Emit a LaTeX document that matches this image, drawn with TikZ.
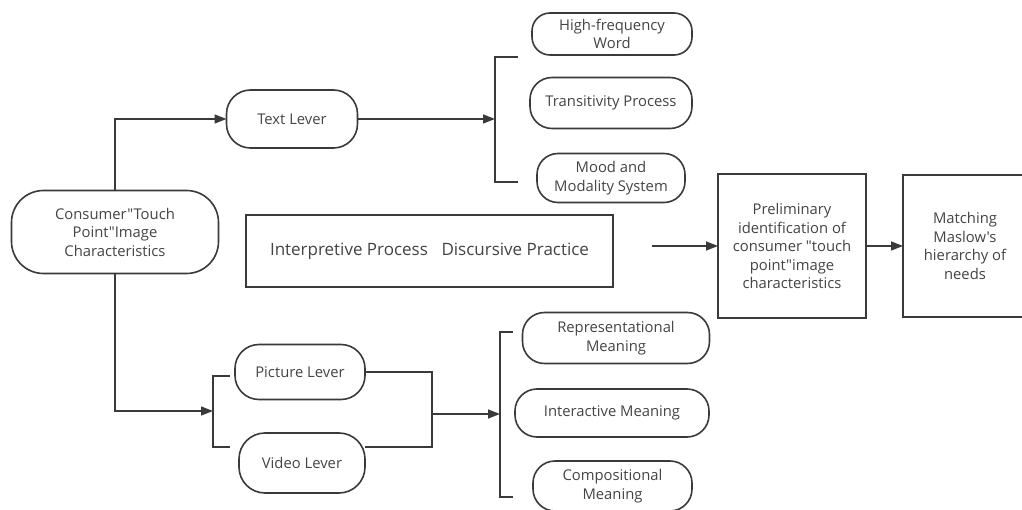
\documentclass[tikz,border=0pt]{standalone}
\usepackage{fontspec}
\defaultfontfeatures[\rmfamily]{}
\setmainfont{Open Sans}
\usetikzlibrary{arrows.meta}
\definecolor{ln}{HTML}{3A3A3A}
\definecolor{tx}{HTML}{444444}
\begin{document}
\begin{tikzpicture}[x=1pt,y=-1pt,
  every node/.style={inner sep=0pt, outer sep=0pt, text=tx, align=center, font=\fontsize{14.8}{18.5}\selectfont},
  rbox/.style={draw=ln, line width=1.6pt, rounded corners=#1},
  sbox/.style={draw=ln, line width=1.6pt},
  conn/.style={draw=ln, line width=1.6pt},
  arr/.style={conn, -{Triangle[length=12pt,width=9pt]}}]
\useasboundingbox (0,0) rectangle (1022,510);
\fill[white] (0,0) rectangle (1022,510);
% nodes
\node[rbox=32, minimum width=207pt, minimum height=83pt] (cons) at (115,232) {Consumer"Touch\\Point"Image\\Characteristics};
\node[rbox=24, minimum width=131pt, minimum height=58pt] (text) at (292,119) {Text Lever};
\node[rbox=18, minimum width=160pt, minimum height=42pt] (hf) at (612,34) {High-frequency\\Word};
\node[rbox=22, minimum width=162pt, minimum height=51pt] (tp) at (611,103) {Transitivity Process};
\node[rbox=21, minimum width=148pt, minimum height=49pt] (mm) at (611,178) {Mood and\\Modality System};
\node[sbox, minimum width=367pt, minimum height=72pt, font=\fontsize{17}{20}\selectfont] (interp) at (429.5,251) {Interpretive Process\hspace{0.8em}Discursive Practice};
\node[sbox, minimum width=148pt, minimum height=144pt] (prelim) at (792,246) {Preliminary\\identification of\\consumer "touch\\point"image\\characteristics};
\node[sbox, minimum width=124pt, minimum height=142pt] (match) at (965,246) {Matching\\Maslow's\\hierarchy of\\needs};
\node[rbox=24, minimum width=130pt, minimum height=55pt] (pic) at (300,372) {Picture Lever};
\node[rbox=26, minimum width=126pt, minimum height=60pt] (vid) at (302,463) {Video Lever};
\node[rbox=22, minimum width=187pt, minimum height=51pt] (rep) at (616,338) {Representational\\Meaning};
\node[rbox=22, minimum width=194pt, minimum height=48pt] (inter) at (612,413) {Interactive Meaning};
\node[rbox=22, minimum width=159pt, minimum height=50pt] (comp) at (612.5,486) {Compositional\\Meaning};
% coordinates
\coordinate (b1t) at (518,57);
\coordinate (b1b) at (518,182);
\coordinate (b1a) at (495,119);
\coordinate (b2t) at (230,376);
\coordinate (b2b) at (230,447);
\coordinate (b2a) at (213,411);
\coordinate (picj) at (432,372);
\coordinate (vidj) at (432,447);
\coordinate (vide) at (365,447);
\coordinate (mj) at (432,414);
\coordinate (b3a) at (500,414);
\coordinate (b3t) at (513,332);
\coordinate (b3b) at (513,497);
\coordinate (ia) at (652,246);
% connectors
\draw[arr] (cons.north) |- (text.west);
\draw[arr] (cons.south) |- (b2a);
\draw[arr] (text.east) -- (b1a);
\draw[conn] (b1t) -- (495,57) -- (495,182) -- (b1b);
\draw[conn] (b2t) -- (213,376) -- (213,447) -- (b2b);
\draw[conn] (pic.east |- picj) -- (picj) -- (vidj) -- (vide);
\draw[arr] (mj) -- (b3a);
\draw[conn] (b3t) -- (500,332) -- (500,497) -- (b3b);
\draw[arr] (ia) -- (prelim.west);
\draw[arr] (prelim.east) -- (match.west);
\end{tikzpicture}
\end{document}
